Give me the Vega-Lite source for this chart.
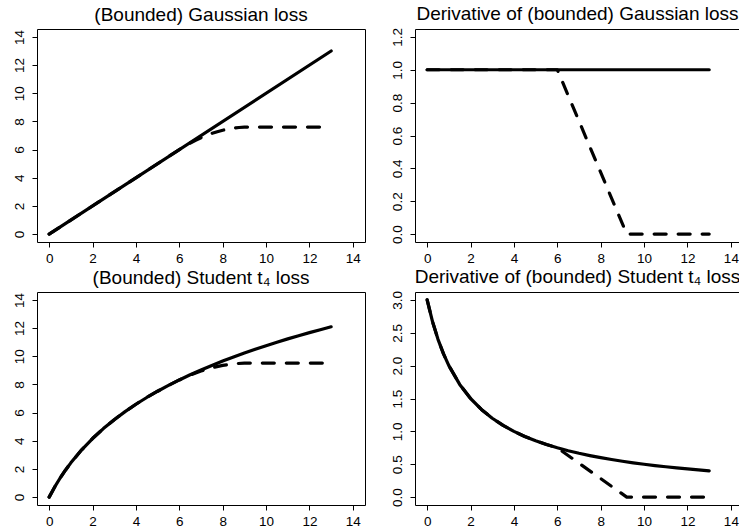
{
  "$schema": "https://vega.github.io/schema/vega-lite/v6.json",
  "padding": {"left": 11, "top": 4, "right": 0, "bottom": 0},
  "columns": 2,
  "spacing": {"row": 50, "column": 50},
  "bounds": "flush",
  "config": {
    "axis": {"domain": false, "grid": false, "tickColor": "black", "tickSize": 5, "tickWidth": 1, "labelColor": "black", "labelFont": "Liberation Sans", "labelFontSize": 13.5, "labelPadding": 4, "labelFlush": false, "labelOverlap": false, "title": null},
    "axisY": {"labelAngle": 270, "labelAlign": "center", "labelBaseline": "bottom", "labelPadding": 6},
    "title": {"font": "Liberation Sans", "fontSize": 19, "fontWeight": "normal", "color": "black", "offset": 4, "anchor": "middle"},
    "view": {"stroke": "black", "strokeWidth": 1},
    "line": {"color": "black", "strokeWidth": 3.2, "strokeCap": "round", "strokeJoin": "round"}
  },
  "datasets": {
    "g": [
      {"x": 0, "y": 0, "type": "solid"},
      {"x": 13, "y": 13, "type": "solid"},
      {"x": 0, "y": 0, "type": "dashed"},
      {"x": 6, "y": 6, "type": "dashed"},
      {"x": 6.25, "y": 6.2402, "type": "dashed"},
      {"x": 6.5, "y": 6.4609, "type": "dashed"},
      {"x": 6.75, "y": 6.6621, "type": "dashed"},
      {"x": 7, "y": 6.8438, "type": "dashed"},
      {"x": 7.25, "y": 7.0059, "type": "dashed"},
      {"x": 7.5, "y": 7.1484, "type": "dashed"},
      {"x": 7.75, "y": 7.2715, "type": "dashed"},
      {"x": 8, "y": 7.375, "type": "dashed"},
      {"x": 8.25, "y": 7.459, "type": "dashed"},
      {"x": 8.5, "y": 7.5234, "type": "dashed"},
      {"x": 8.75, "y": 7.5684, "type": "dashed"},
      {"x": 9, "y": 7.5938, "type": "dashed"},
      {"x": 9.2, "y": 7.6, "type": "dashed"},
      {"x": 13, "y": 7.6, "type": "dashed"}
    ],
    "gd": [
      {"x": 0, "y": 1, "type": "solid"},
      {"x": 13, "y": 1, "type": "solid"},
      {"x": 0, "y": 1, "type": "dashed"},
      {"x": 6, "y": 1, "type": "dashed"},
      {"x": 9.2, "y": 0, "type": "dashed"},
      {"x": 13, "y": 0, "type": "dashed"}
    ],
    "t": [
      {"x": 0, "y": 0, "type": "solid"},
      {"x": 0.25, "y": 0.7067, "type": "solid"},
      {"x": 0.5, "y": 1.3389, "type": "solid"},
      {"x": 0.75, "y": 1.9107, "type": "solid"},
      {"x": 1, "y": 2.4328, "type": "solid"},
      {"x": 1.5, "y": 3.3577, "type": "solid"},
      {"x": 2, "y": 4.1589, "type": "solid"},
      {"x": 2.5, "y": 4.8656, "type": "solid"},
      {"x": 3, "y": 5.4977, "type": "solid"},
      {"x": 3.5, "y": 6.0696, "type": "solid"},
      {"x": 4, "y": 6.5917, "type": "solid"},
      {"x": 4.5, "y": 7.0719, "type": "solid"},
      {"x": 5, "y": 7.5166, "type": "solid"},
      {"x": 5.5, "y": 7.9305, "type": "solid"},
      {"x": 6, "y": 8.3178, "type": "solid"},
      {"x": 6.5, "y": 8.6815, "type": "solid"},
      {"x": 7, "y": 9.0245, "type": "solid"},
      {"x": 7.5, "y": 9.3489, "type": "solid"},
      {"x": 8, "y": 9.6566, "type": "solid"},
      {"x": 8.5, "y": 9.9494, "type": "solid"},
      {"x": 9, "y": 10.2285, "type": "solid"},
      {"x": 9.5, "y": 10.4952, "type": "solid"},
      {"x": 10, "y": 10.7506, "type": "solid"},
      {"x": 10.5, "y": 10.9955, "type": "solid"},
      {"x": 11, "y": 11.2308, "type": "solid"},
      {"x": 11.5, "y": 11.4573, "type": "solid"},
      {"x": 12, "y": 11.6755, "type": "solid"},
      {"x": 12.5, "y": 11.886, "type": "solid"},
      {"x": 13, "y": 12.0894, "type": "solid"},
      {"x": 0, "y": 0, "type": "dashed"},
      {"x": 0.25, "y": 0.7067, "type": "dashed"},
      {"x": 0.5, "y": 1.3389, "type": "dashed"},
      {"x": 0.75, "y": 1.9107, "type": "dashed"},
      {"x": 1, "y": 2.4328, "type": "dashed"},
      {"x": 1.5, "y": 3.3577, "type": "dashed"},
      {"x": 2, "y": 4.1589, "type": "dashed"},
      {"x": 2.5, "y": 4.8656, "type": "dashed"},
      {"x": 3, "y": 5.4977, "type": "dashed"},
      {"x": 3.5, "y": 6.0696, "type": "dashed"},
      {"x": 4, "y": 6.5917, "type": "dashed"},
      {"x": 4.5, "y": 7.0719, "type": "dashed"},
      {"x": 5, "y": 7.5166, "type": "dashed"},
      {"x": 5.5, "y": 7.9305, "type": "dashed"},
      {"x": 6, "y": 8.3178, "type": "dashed"},
      {"x": 6.5, "y": 8.6635, "type": "dashed"},
      {"x": 7, "y": 8.9506, "type": "dashed"},
      {"x": 7.5, "y": 9.1791, "type": "dashed"},
      {"x": 8, "y": 9.349, "type": "dashed"},
      {"x": 8.5, "y": 9.4604, "type": "dashed"},
      {"x": 9, "y": 9.5131, "type": "dashed"},
      {"x": 9.2, "y": 9.5178, "type": "dashed"},
      {"x": 13, "y": 9.5178, "type": "dashed"}
    ],
    "td": [
      {"x": 0, "y": 3, "type": "solid"},
      {"x": 0.25, "y": 2.6667, "type": "solid"},
      {"x": 0.5, "y": 2.4, "type": "solid"},
      {"x": 0.75, "y": 2.1818, "type": "solid"},
      {"x": 1, "y": 2, "type": "solid"},
      {"x": 1.5, "y": 1.7143, "type": "solid"},
      {"x": 2, "y": 1.5, "type": "solid"},
      {"x": 2.5, "y": 1.3333, "type": "solid"},
      {"x": 3, "y": 1.2, "type": "solid"},
      {"x": 3.5, "y": 1.0909, "type": "solid"},
      {"x": 4, "y": 1, "type": "solid"},
      {"x": 4.5, "y": 0.9231, "type": "solid"},
      {"x": 5, "y": 0.8571, "type": "solid"},
      {"x": 5.5, "y": 0.8, "type": "solid"},
      {"x": 6, "y": 0.75, "type": "solid"},
      {"x": 6.5, "y": 0.7059, "type": "solid"},
      {"x": 7, "y": 0.6667, "type": "solid"},
      {"x": 7.5, "y": 0.6316, "type": "solid"},
      {"x": 8, "y": 0.6, "type": "solid"},
      {"x": 8.5, "y": 0.5714, "type": "solid"},
      {"x": 9, "y": 0.5455, "type": "solid"},
      {"x": 9.5, "y": 0.5217, "type": "solid"},
      {"x": 10, "y": 0.5, "type": "solid"},
      {"x": 10.5, "y": 0.48, "type": "solid"},
      {"x": 11, "y": 0.4615, "type": "solid"},
      {"x": 11.5, "y": 0.4444, "type": "solid"},
      {"x": 12, "y": 0.4286, "type": "solid"},
      {"x": 12.5, "y": 0.4138, "type": "solid"},
      {"x": 13, "y": 0.4, "type": "solid"},
      {"x": 0, "y": 3, "type": "dashed"},
      {"x": 0.25, "y": 2.6667, "type": "dashed"},
      {"x": 0.5, "y": 2.4, "type": "dashed"},
      {"x": 0.75, "y": 2.1818, "type": "dashed"},
      {"x": 1, "y": 2, "type": "dashed"},
      {"x": 1.5, "y": 1.7143, "type": "dashed"},
      {"x": 2, "y": 1.5, "type": "dashed"},
      {"x": 2.5, "y": 1.3333, "type": "dashed"},
      {"x": 3, "y": 1.2, "type": "dashed"},
      {"x": 3.5, "y": 1.0909, "type": "dashed"},
      {"x": 4, "y": 1, "type": "dashed"},
      {"x": 4.5, "y": 0.9231, "type": "dashed"},
      {"x": 5, "y": 0.8571, "type": "dashed"},
      {"x": 5.5, "y": 0.8, "type": "dashed"},
      {"x": 6, "y": 0.75, "type": "dashed"},
      {"x": 9.2, "y": 0, "type": "dashed"},
      {"x": 13, "y": 0, "type": "dashed"}
    ]
  },
  "concat": [
    {
      "width": 328, "height": 213,
      "title": "(Bounded) Gaussian loss",
      "data": {"name": "g"},
      "encoding": {
        "x": {"field": "x", "type": "quantitative", "scale": {"domain": [-0.56, 14.56], "nice": false, "zero": false}, "axis": {"values": [0, 2, 4, 6, 8, 10, 12, 14]}},
        "y": {"field": "y", "type": "quantitative", "scale": {"domain": [-0.56, 14.56], "nice": false, "zero": false}, "axis": {"values": [0, 2, 4, 6, 8, 10, 12, 14], "format": "d"}}
      },
      "layer": [
        {"transform": [{"filter": "datum.type === 'solid'"}], "mark": {"type": "line"}},
        {"transform": [{"filter": "datum.type === 'dashed'"}], "mark": {"type": "line", "strokeDash": [12, 12]}}
      ]
    },
    {
      "width": 325, "height": 213,
      "title": "Derivative of (bounded) Gaussian loss",
      "data": {"name": "gd"},
      "encoding": {
        "x": {"field": "x", "type": "quantitative", "scale": {"domain": [-0.56, 14.42], "nice": false, "zero": false}, "axis": {"values": [0, 2, 4, 6, 8, 10, 12, 14]}},
        "y": {"field": "y", "type": "quantitative", "scale": {"domain": [-0.048, 1.248], "nice": false, "zero": false}, "axis": {"values": [0, 0.2, 0.4, 0.6, 0.8, 1.0, 1.2], "format": ".1f"}}
      },
      "layer": [
        {"transform": [{"filter": "datum.type === 'solid'"}], "mark": {"type": "line"}},
        {"transform": [{"filter": "datum.type === 'dashed'"}], "mark": {"type": "line", "strokeDash": [12, 12]}}
      ]
    },
    {
      "width": 328, "height": 213,
      "title": "(Bounded) Student t₄  loss",
      "data": {"name": "t"},
      "encoding": {
        "x": {"field": "x", "type": "quantitative", "scale": {"domain": [-0.56, 14.56], "nice": false, "zero": false}, "axis": {"values": [0, 2, 4, 6, 8, 10, 12, 14]}},
        "y": {"field": "y", "type": "quantitative", "scale": {"domain": [-0.56, 14.56], "nice": false, "zero": false}, "axis": {"values": [0, 2, 4, 6, 8, 10, 12, 14], "format": "d"}}
      },
      "layer": [
        {"transform": [{"filter": "datum.type === 'solid'"}], "mark": {"type": "line"}},
        {"transform": [{"filter": "datum.type === 'dashed'"}], "mark": {"type": "line", "strokeDash": [12, 12]}}
      ]
    },
    {
      "width": 325, "height": 213,
      "title": "Derivative of (bounded) Student t₄ loss",
      "data": {"name": "td"},
      "encoding": {
        "x": {"field": "x", "type": "quantitative", "scale": {"domain": [-0.56, 14.42], "nice": false, "zero": false}, "axis": {"values": [0, 2, 4, 6, 8, 10, 12, 14]}},
        "y": {"field": "y", "type": "quantitative", "scale": {"domain": [-0.12, 3.12], "nice": false, "zero": false}, "axis": {"values": [0, 0.5, 1.0, 1.5, 2.0, 2.5, 3.0], "format": ".1f"}}
      },
      "layer": [
        {"transform": [{"filter": "datum.type === 'solid'"}], "mark": {"type": "line"}},
        {"transform": [{"filter": "datum.type === 'dashed'"}], "mark": {"type": "line", "strokeDash": [12, 12]}}
      ]
    }
  ]
}
